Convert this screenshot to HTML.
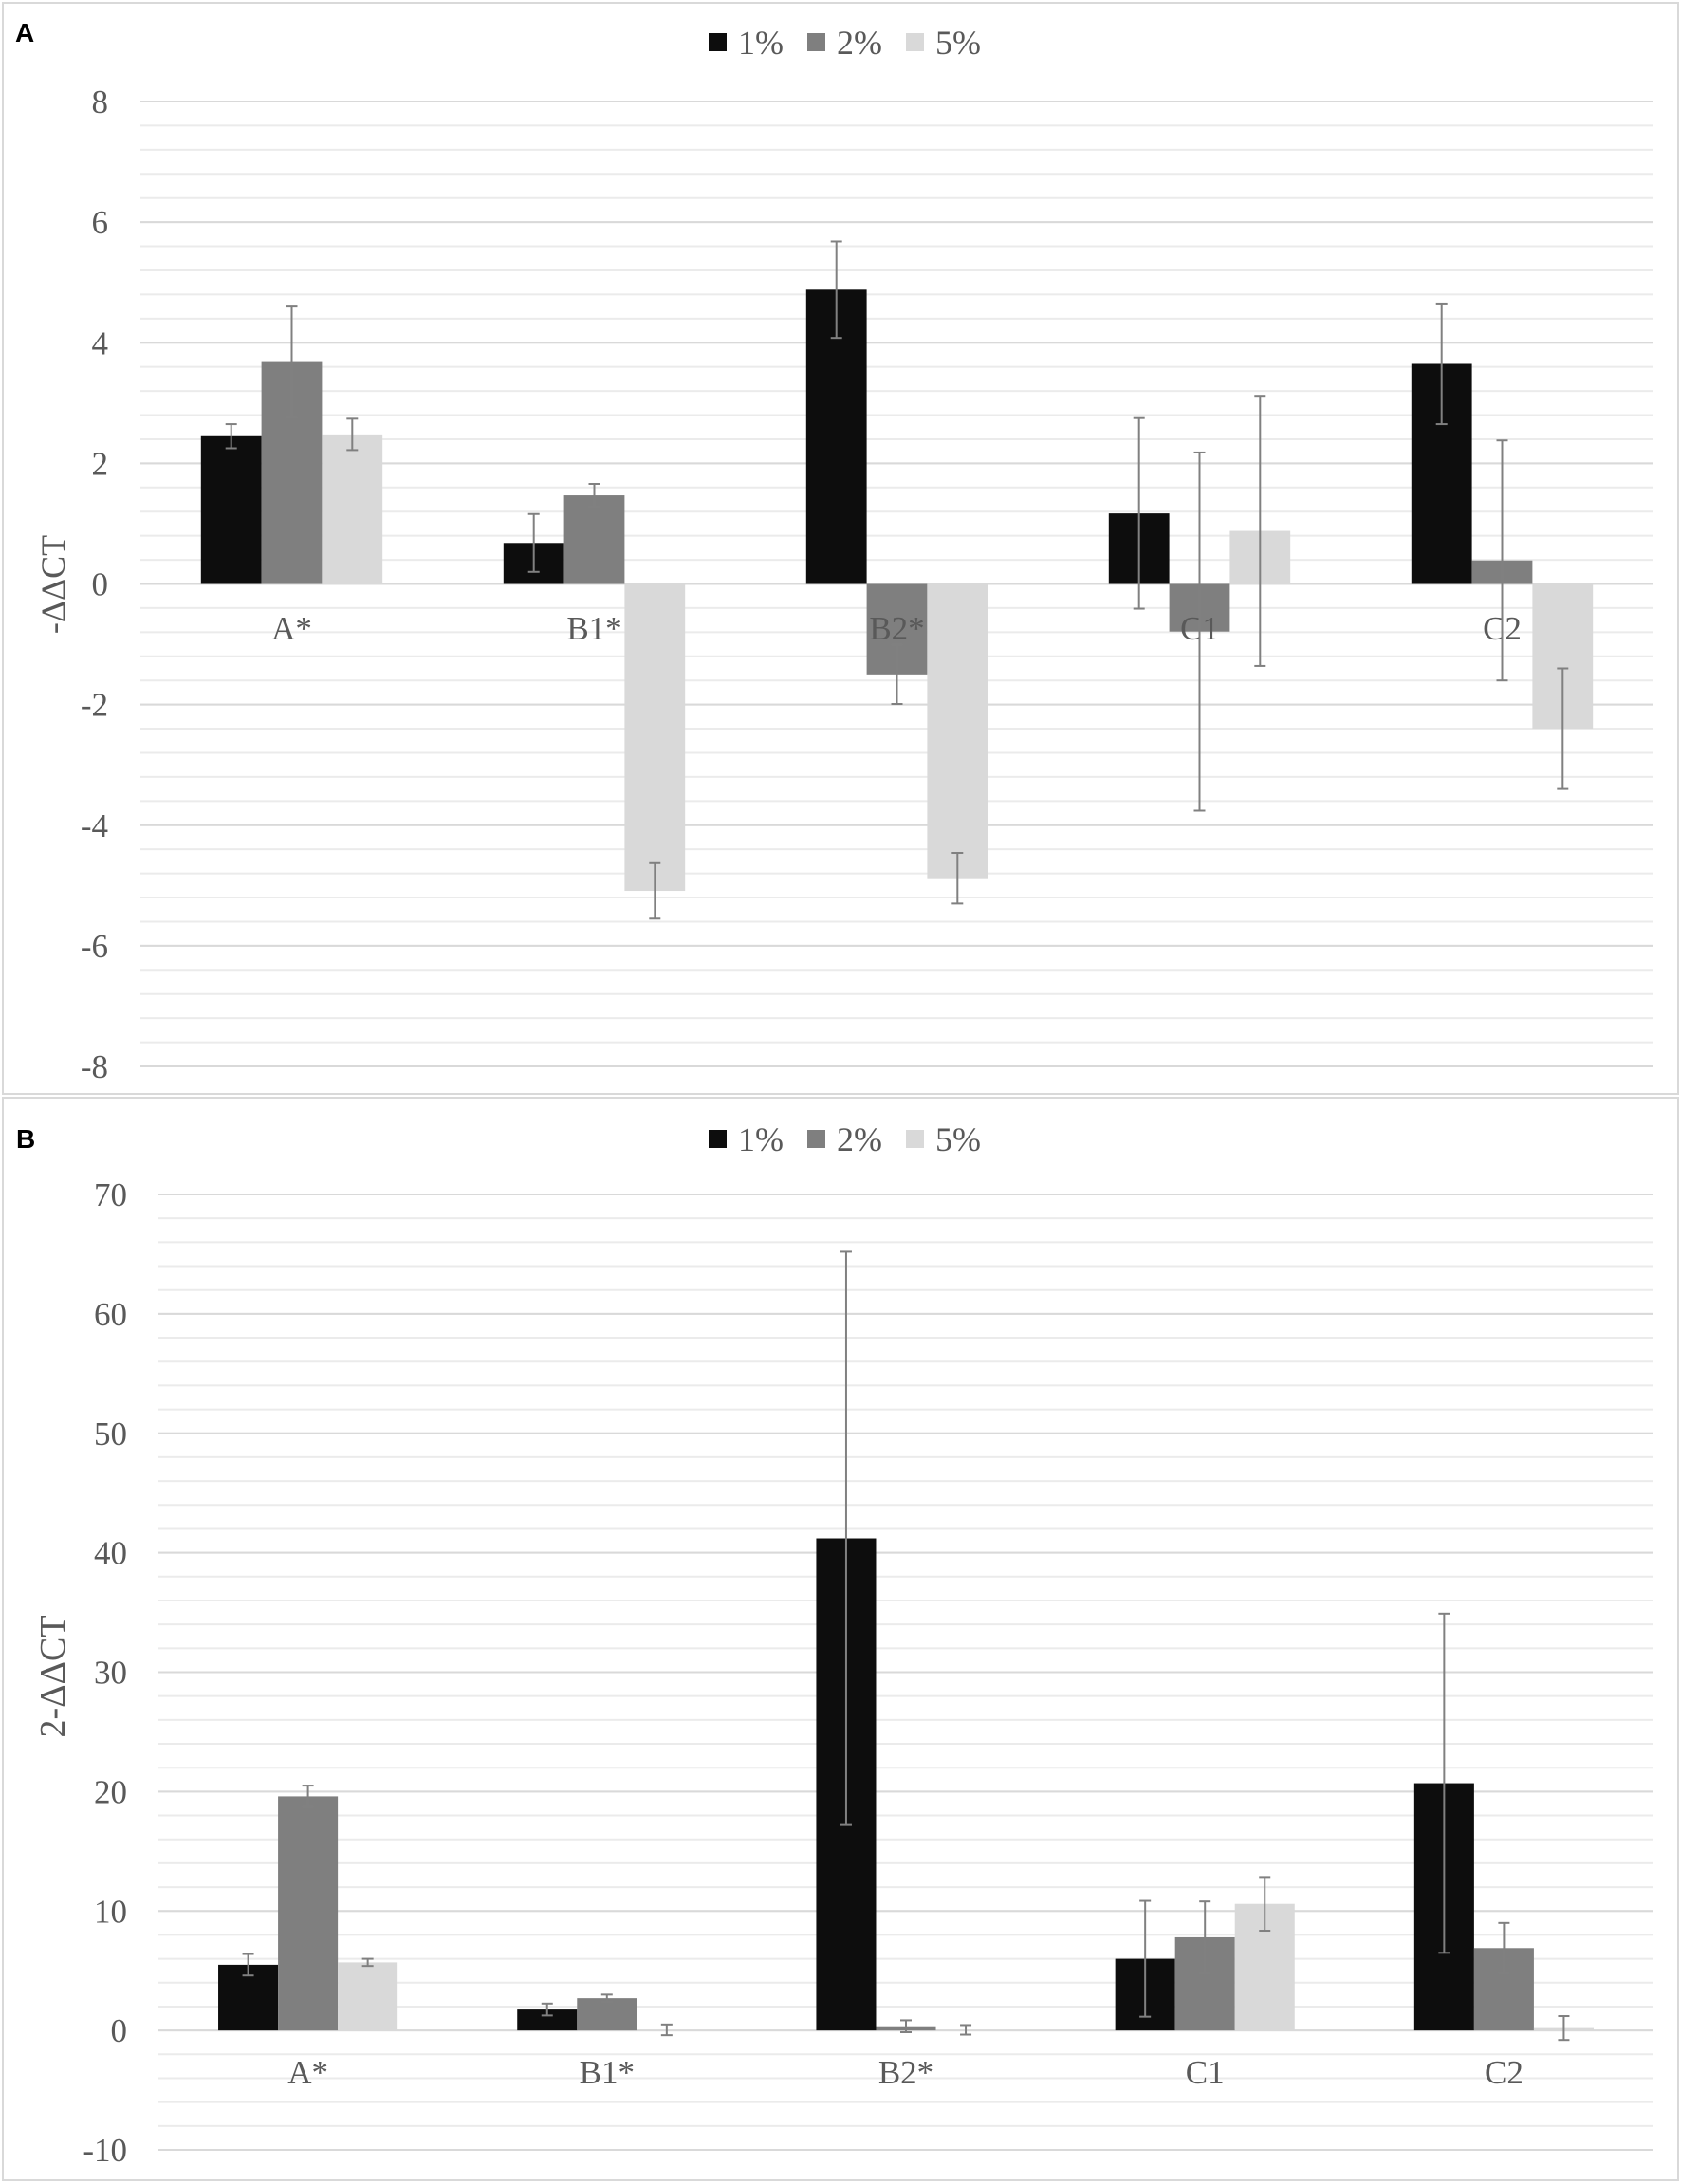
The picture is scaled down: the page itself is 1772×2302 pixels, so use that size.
<!DOCTYPE html>
<html><head><meta charset="utf-8">
<style>
html,body{margin:0;padding:0;background:#fff;}
svg{display:block;}
text{font-family:"Liberation Serif",serif;}
</style></head>
<body>
<svg id="chart" width="1772" height="2302" viewBox="0 0 1772 2302" xmlns="http://www.w3.org/2000/svg">
<rect x="3" y="3" width="1766" height="1150" fill="#fff" stroke="#d9d9d9" stroke-width="2"/>
<rect x="3" y="1157" width="1766" height="1141" fill="#fff" stroke="#d9d9d9" stroke-width="2"/>
<text x="16" y="44" style="font-family:'Liberation Sans',sans-serif" font-weight="bold" font-size="28" fill="#000">A</text>
<text x="17" y="1210" style="font-family:'Liberation Sans',sans-serif" font-weight="bold" font-size="28" fill="#000">B</text>
<g id="pa"></g>
<g id="pb"></g>
</svg>
<script>
const categories = ["A*","B1*","B2*","C1","C2"];
const seriesNames = ["1%","2%","5%"];
const seriesColors = ["#0d0d0d","#7f7f7f","#d9d9d9"];
// Panel A: -ΔΔCT
const aVals1 = [2.45, 0.68, 4.88, 1.17, 3.65];
const aVals2 = [3.68, 1.47, -1.50, -0.79, 0.39];
const aVals5 = [2.48, -5.09, -4.88, 0.88, -2.40];
const aErr1 = [0.20, 0.48, 0.80, 1.58, 1.00];
const aErr2 = [0.92, 0.19, 0.49, 2.97, 1.99];
const aErr5 = [0.26, 0.46, 0.42, 2.24, 1.00];
const aTicks = [-8,-6,-4,-2,0,2,4,6,8];
// Panel B: 2-ΔΔCT
const bVals1 = [5.5, 1.75, 41.2, 6.0, 20.7];
const bVals2 = [19.6, 2.7, 0.35, 7.8, 6.9];
const bVals5 = [5.7, 0.05, 0.05, 10.6, 0.2];
const bErr1 = [0.9, 0.5, 24.0, 4.85, 14.2];
const bErr2 = [0.9, 0.3, 0.5, 3.0, 2.1];
const bErr5 = [0.3, 0.45, 0.4, 2.25, 1.0];
const bTicks = [-10,0,10,20,30,40,50,60,70];

const NS="http://www.w3.org/2000/svg";
const SERIF="'Liberation Serif', serif";
function mk(parent, tag, attrs){const e=document.createElementNS(NS,tag);for(const k in attrs)e.setAttribute(k,attrs[k]);if(tag==='text')e.style.fontFamily=SERIF;parent.appendChild(e);return e;}

function drawPanel(g, cfg){
  const y = v => cfg.y0 + (v - cfg.min) / (cfg.max - cfg.min) * (cfg.y1 - cfg.y0);
  for(let v=cfg.min; v>=cfg.max-1e-9; v+=cfg.minor){
    const l=mk(g,'line',{x1:cfg.left,x2:cfg.right,y1:y(v),y2:y(v),stroke:'#ebebeb','stroke-width':2});
    
    
  }
  cfg.ticks.forEach(t=>{
    const l=mk(g,'line',{x1:cfg.left,x2:cfg.right,y1:y(t),y2:y(t),stroke:'#d9d9d9','stroke-width':2});
    
    
    const tx=mk(g,'text',{x:cfg.tickX,y:y(t)+12,'text-anchor':'end','font-size':35,fill:'#595959'});
    tx.textContent=String(t);
    
    
  });
  const cw=(cfg.right-cfg.left)/categories.length, bw=cw*0.2;
  const vals=[cfg.v1,cfg.v2,cfg.v5], errs=[cfg.e1,cfg.e2,cfg.e5];
  categories.forEach((c,i)=>{
    const cx=cfg.left+cw*(i+0.5);
    for(let s=0;s<3;s++){
      const v=vals[s][i], x=cx-1.5*bw+s*bw;
      const top=Math.min(y(v),y(0)), h=Math.abs(y(v)-y(0));
      const r=mk(g,'rect',{x:x,y:top,width:bw,height:Math.max(h,1),fill:seriesColors[s]});
      
      
    }
    const lab=mk(g,'text',{x:cx,y:cfg.catY,'text-anchor':'middle','font-size':35,fill:'#595959'});
    lab.textContent=c;
    
    
    for(let s=0;s<3;s++){
      const v=vals[s][i], e=errs[s][i], x=cx-1.5*bw+s*bw+bw/2;
      const eg=mk(g,'g',{stroke:'#808080','stroke-width':2});
      
      
      mk(eg,'line',{x1:x,x2:x,y1:y(v+e),y2:y(v-e)});
      mk(eg,'line',{x1:x-6,x2:x+6,y1:y(v+e),y2:y(v+e)});
      mk(eg,'line',{x1:x-6,x2:x+6,y1:y(v-e),y2:y(v-e)});
    }
  });
  const yt=mk(g,'text',{x:0,y:0,'text-anchor':'middle','font-size':cfg.titleSize,fill:'#595959',transform:`translate(${cfg.titleX},${cfg.titleY}) rotate(-90)`});
  yt.textContent=cfg.title;
  
  
  const lx=[747,851,955];
  seriesNames.forEach((n,s)=>{
    const r=mk(g,'rect',{x:lx[s],y:cfg.legY,width:19,height:19,fill:seriesColors[s]});
    
    
    const t=mk(g,'text',{x:lx[s]+31,y:cfg.legY+22,'font-size':36,fill:'#595959'});
    t.textContent=n;
    
    
  });
}
drawPanel(document.getElementById('pa'),{min:8,max:-8,y0:107,y1:1124,left:148,right:1743,minor:-0.4,ticks:aTicks,tickX:114,
  v1:aVals1,v2:aVals2,v5:aVals5,e1:aErr1,e2:aErr2,e5:aErr5,catY:674,title:'-ΔΔCT',titleSize:36,titleX:68,titleY:616,legY:35});
drawPanel(document.getElementById('pb'),{min:70,max:-10,y0:1259,y1:2266,left:167,right:1743,minor:-2,ticks:bTicks,tickX:134,
  v1:bVals1,v2:bVals2,v5:bVals5,e1:bErr1,e2:bErr2,e5:bErr5,catY:2196,title:'2-ΔΔCT',titleSize:38,titleX:68,titleY:1767,legY:1191});
</script>
</body></html>
